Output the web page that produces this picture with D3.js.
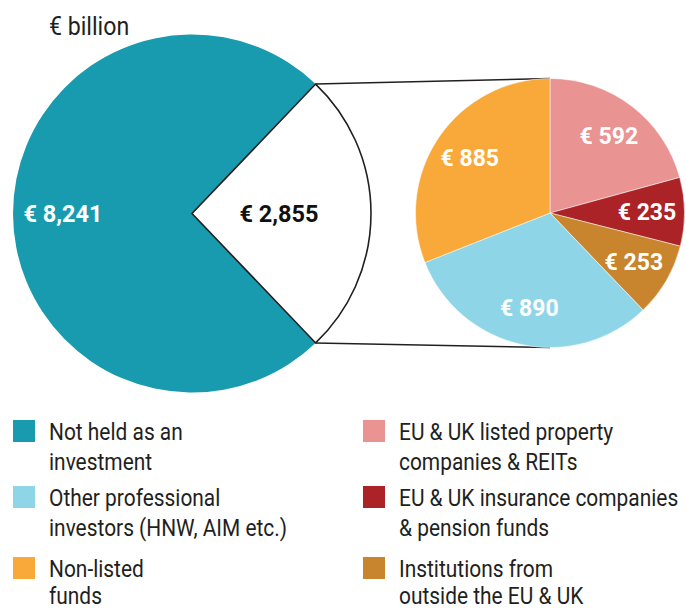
<!DOCTYPE html>
<html>
<head>
<meta charset="utf-8">
<script src="https://cdn.jsdelivr.net/npm/d3@7"></script>
<style>
body { margin: 0; background: #fff; }
svg { display: block; font-family: Roboto, "Liberation Sans", sans-serif; }
</style>
</head>
<body>
<svg width="686" height="609"></svg>
<script>
// main split: part that is an investment (exploded) vs not
var mainLabels = ["Investment", "Not held as an investment"];
var mainValues = [2855, 8241];
var mainColors = ["#ffffff", "#189bae"];

// breakdown of the invested part, clockwise from 12 o'clock
var subLabels = ["EU & UK listed property companies & REITs",
                 "EU & UK insurance companies & pension funds",
                 "Institutions from outside the EU & UK",
                 "Other professional investors (HNW, AIM etc.)",
                 "Non-listed funds"];
var subValues = [592, 235, 253, 890, 885];
var subColors = ["#e99393", "#ab2227", "#c8852d", "#8fd5e8", "#f9a93a"];

// legend, two columns, each entry on two lines
var legendLeft = [
  {color: "#189bae", lines: ["Not held as an", "investment"]},
  {color: "#8fd5e8", lines: ["Other professional", "investors (HNW, AIM etc.)"]},
  {color: "#f9a93a", lines: ["Non-listed", "funds"]}
];
var legendRight = [
  {color: "#e99393", lines: ["EU & UK listed property", "companies & REITs"]},
  {color: "#ab2227", lines: ["EU & UK insurance companies", "& pension funds"]},
  {color: "#c8852d", lines: ["Institutions from", "outside the EU & UK"]}
];

var svg = d3.select("svg"),
    bigX = 192, bigY = 213.5, bigR = 179,
    smallX = 550, smallY = 213, smallR = 134.5,
    fmt = d3.format(",");

function label(g, x, y, txt, size, weight, fill, anchor, sx) {
  return g.append("text")
      .attr("transform", "translate(" + x + "," + y + ") scale(" + (sx || 0.89) + ",1)")
      .attr("text-anchor", anchor || "start")
      .attr("font-size", size)
      .attr("font-weight", weight)
      .attr("fill", fill)
      .text(txt);
}

label(svg, 49, 35, "€ billion", 26, 400, "#231f20");

// big pie, white slice centred on the right
var total = d3.sum(mainValues),
    a0 = Math.PI / 2 - Math.PI * mainValues[0] / total;

var bigArcs = d3.pie().sort(null)
    .startAngle(a0).endAngle(a0 + 2 * Math.PI)(mainValues);
var arcBig = d3.arc().innerRadius(0).outerRadius(bigR);
var arcBigLabel = d3.arc();

var big = svg.append("g").attr("transform", "translate(" + bigX + "," + bigY + ")");
big.selectAll("path")
    .data(bigArcs.slice().reverse())
  .enter().append("path")
    .attr("d", arcBig)
    .attr("fill", function(d) { return mainColors[d.index]; })
    .attr("stroke", function(d) { return d.index === 0 ? "#231f20" : "none"; })
    .attr("stroke-width", 1.6)
    .attr("stroke-linejoin", "miter");

var bigLabelR = [87, 129];
bigArcs.forEach(function(d, i) {
  var c = arcBigLabel.innerRadius(bigLabelR[i]).outerRadius(bigLabelR[i]).centroid(d);
  label(big, c[0], c[1] + 8, "€ " + fmt(d.value), 23.5, 700, i === 0 ? "#111" : "#fff", "middle", 1);
});

// connector lines from the white slice corners to the small pie
var w = bigArcs[0];
var corners = [w.startAngle, w.endAngle].map(function(a) {
  return [bigX + bigR * Math.sin(a), bigY - bigR * Math.cos(a)];
});
svg.append("line")
    .attr("x1", corners[0][0]).attr("y1", corners[0][1])
    .attr("x2", smallX).attr("y2", smallY - smallR)
    .attr("stroke", "#231f20").attr("stroke-width", 1.6);
svg.append("line")
    .attr("x1", corners[1][0]).attr("y1", corners[1][1])
    .attr("x2", smallX).attr("y2", smallY + smallR)
    .attr("stroke", "#231f20").attr("stroke-width", 1.6);

// small pie
var subArcs = d3.pie().sort(null)(subValues);
var arcSmall = d3.arc().innerRadius(0).outerRadius(smallR);
var arcSmallLabel = d3.arc().innerRadius(97).outerRadius(97);

var small = svg.append("g").attr("transform", "translate(" + smallX + "," + smallY + ")");
small.selectAll("path")
    .data(subArcs)
  .enter().append("path")
    .attr("d", arcSmall)
    .attr("fill", function(d, i) { return subColors[i]; })
    .attr("stroke", "#fff")
    .attr("stroke-width", 0.5);

subArcs.forEach(function(d) {
  var c = arcSmallLabel.centroid(d);
  label(small, c[0], c[1] + 8, "€ " + fmt(d.value), 23.5, 700, "#fff", "middle", 0.98);
});

// legend
var rowTop = [420, 486, 557],
    lineGap = [29.5, 29.5, 27];
function drawLegend(items, x) {
  items.forEach(function(it, i) {
    svg.append("rect")
        .attr("x", x).attr("y", rowTop[i])
        .attr("width", 22).attr("height", 22)
        .attr("fill", it.color);
    it.lines.forEach(function(t, j) {
      label(svg, x + 36, rowTop[i] + 20 + j * lineGap[i], t, 23.5, 400, "#231f20");
    });
  });
}
drawLegend(legendLeft, 13);
drawLegend(legendRight, 363);
</script>
</body>
</html>
